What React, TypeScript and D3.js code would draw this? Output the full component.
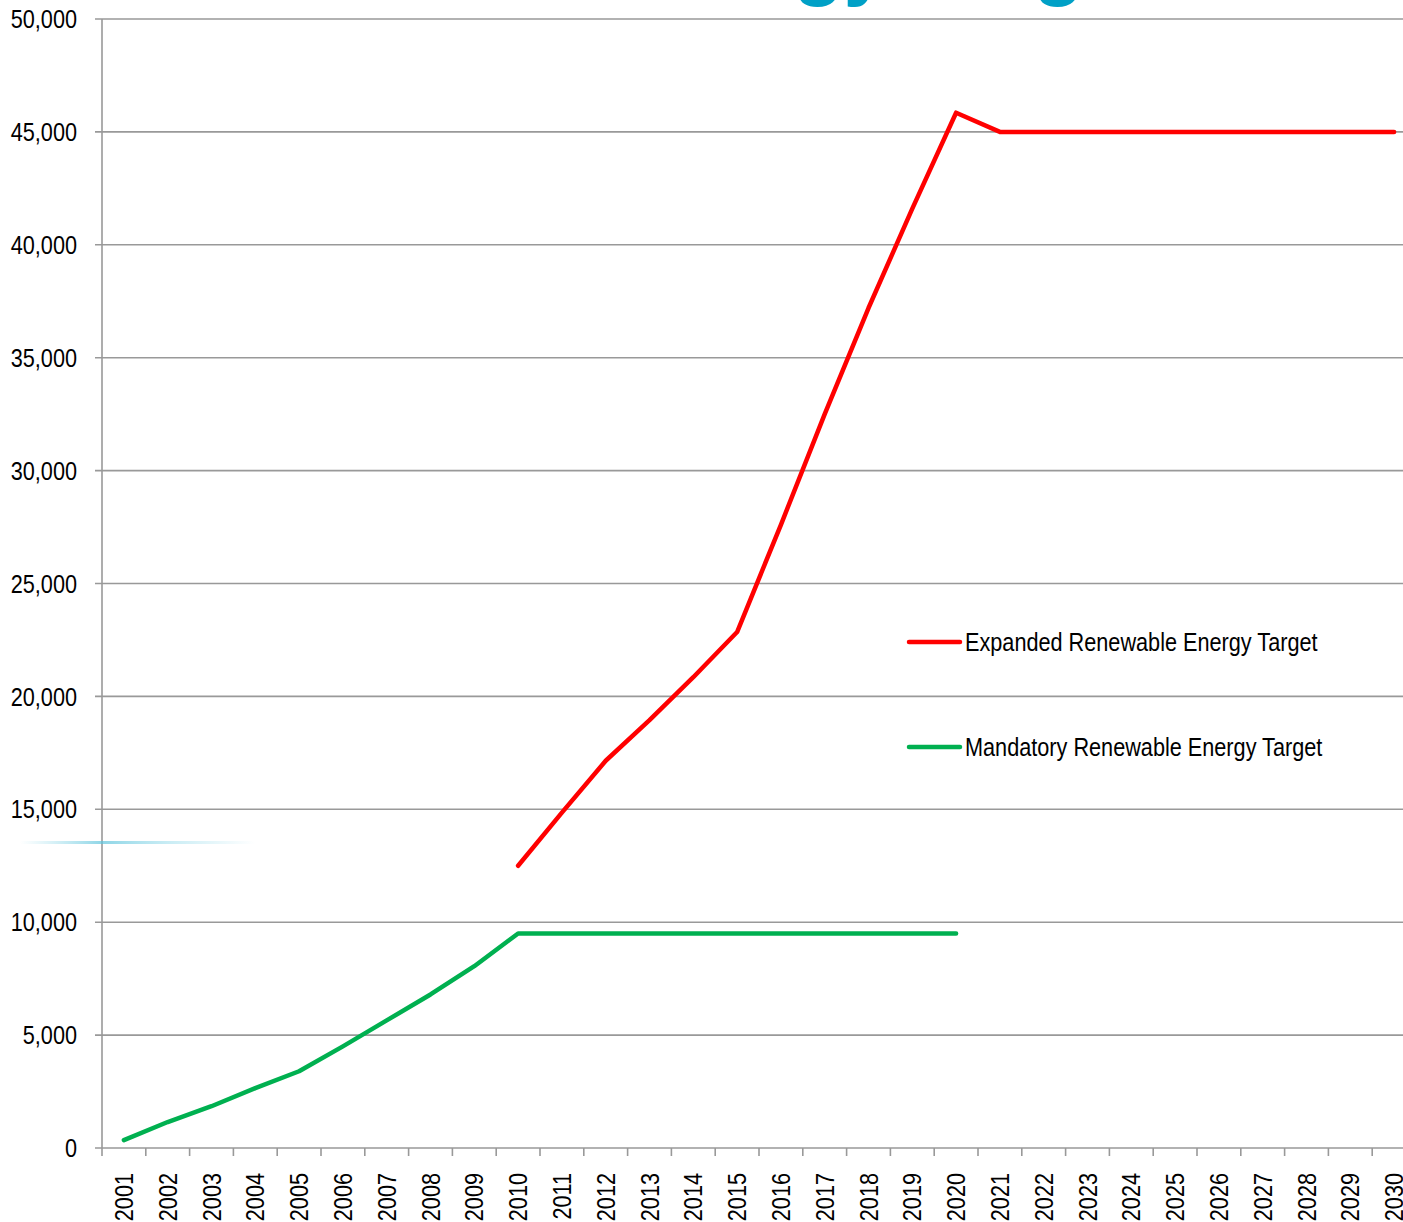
import React from "react";
import * as d3 from "d3";

const years: string[] = d3.range(2001, 2031).map(String);
const yTicks: number[] = [0, 5000, 10000, 15000, 20000, 25000, 30000, 35000, 40000, 45000, 50000];

const mandatoryYears: string[] = ["2001","2002","2003","2004","2005","2006","2007","2008","2009","2010","2011","2012","2013","2014","2015","2016","2017","2018","2019","2020"];
const mandatoryValues: number[] = [350, 1150, 1850, 2650, 3400, 4500, 5650, 6800, 8050, 9500, 9500, 9500, 9500, 9500, 9500, 9500, 9500, 9500, 9500, 9500];

const expandedYears: string[] = ["2010","2011","2012","2013","2014","2015","2016","2017","2018","2019","2020","2021","2022","2023","2024","2025","2026","2027","2028","2029","2030"];
const expandedValues: number[] = [12500, 14850, 17150, 18950, 20850, 22850, 27600, 32500, 37200, 41600, 45850, 45000, 45000, 45000, 45000, 45000, 45000, 45000, 45000, 45000, 45000];

const legendItems = [
  { label: "Expanded Renewable Energy Target", color: "#ff0000" },
  { label: "Mandatory Renewable Energy Target", color: "#00b050" },
];

const titleText = "Renewable Energy Target";

const W = 1403, H = 1222;
const FONT = "'Liberation Sans', Arial, sans-serif";
const FS = 25.5;
const SX = 0.85;

export default function App() {
  const x = d3.scaleBand<string>().domain(years).range([102, 102 + 30 * 43.8]).padding(0);
  const y = d3.scaleLinear().domain([0, 50000]).range([1148, 19]);
  const cx = (yr: string) => (x(yr) as number) + x.bandwidth() / 2;
  const line = d3.line<[string, number]>().x(d => cx(d[0])).y(d => y(d[1]));
  const mand: [string, number][] = mandatoryYears.map((yr, i) => [yr, mandatoryValues[i]]);
  const exp: [string, number][] = expandedYears.map((yr, i) => [yr, expandedValues[i]]);
  const grid = "#999999";
  const boundaries = d3.range(0, 31).map(i => 102 + i * x.step());

  return (
    <svg width={W} height={H} style={{ position: "absolute", top: 0, left: 0, background: "#fff" }}>
      <defs>
        <linearGradient id="smudge" x1="0" x2="1" y1="0" y2="0">
          <stop offset="0" stopColor="#7fd3e6" stopOpacity="0" />
          <stop offset="0.35" stopColor="#5fc4dc" stopOpacity="0.7" />
          <stop offset="0.65" stopColor="#7fd3e6" stopOpacity="0.4" />
          <stop offset="1" stopColor="#7fd3e6" stopOpacity="0" />
        </linearGradient>
      </defs>
      <text x={160} y={-10} fontFamily="'Liberation Sans', Arial, sans-serif" fontWeight="bold" fontSize={82} fill="#00a0c6">{titleText}</text>
      {yTicks.map(t => (
        <g key={t}>
          <line x1={95} x2={W} y1={y(t)} y2={y(t)} stroke={grid} strokeWidth={1.6} />
          <text transform={`translate(77,${y(t)}) scale(${SX},1)`} dy="0.36em" textAnchor="end" fontFamily={FONT} fontSize={FS} fill="#000">{d3.format(",")(t)}</text>
        </g>
      ))}
      <line x1={102} x2={102} y1={19} y2={1148} stroke={grid} strokeWidth={1.6} />
      {boundaries.map((b, i) => (
        <line key={i} x1={b} x2={b} y1={1148} y2={1156} stroke={grid} strokeWidth={1.6} />
      ))}
      {years.map(yr => (
        <text key={yr} transform={`translate(${cx(yr) + 9},1173) rotate(-90) scale(${SX},1)`} textAnchor="end" fontFamily={FONT} fontSize={FS} fill="#000">{yr}</text>
      ))}
      <rect x={20} y={841} width={235} height={3} fill="url(#smudge)" />
      <path d={line(mand) || ""} fill="none" stroke="#00b050" strokeWidth={4.5} strokeLinejoin="round" strokeLinecap="round" />
      <path d={line(exp) || ""} fill="none" stroke="#ff0000" strokeWidth={4.5} strokeLinejoin="round" strokeLinecap="round" />
      {legendItems.map((it, i) => (
        <g key={it.label} transform={`translate(0,${642 + i * 105})`}>
          <line x1={909} x2={960} y1={0} y2={0} stroke={it.color} strokeWidth={4.5} strokeLinecap="round" />
          <text transform={`translate(965,0) scale(${SX},1)`} dy="0.37em" fontFamily={FONT} fontSize={FS} fill="#000">{it.label}</text>
        </g>
      ))}
    </svg>
  );
}
